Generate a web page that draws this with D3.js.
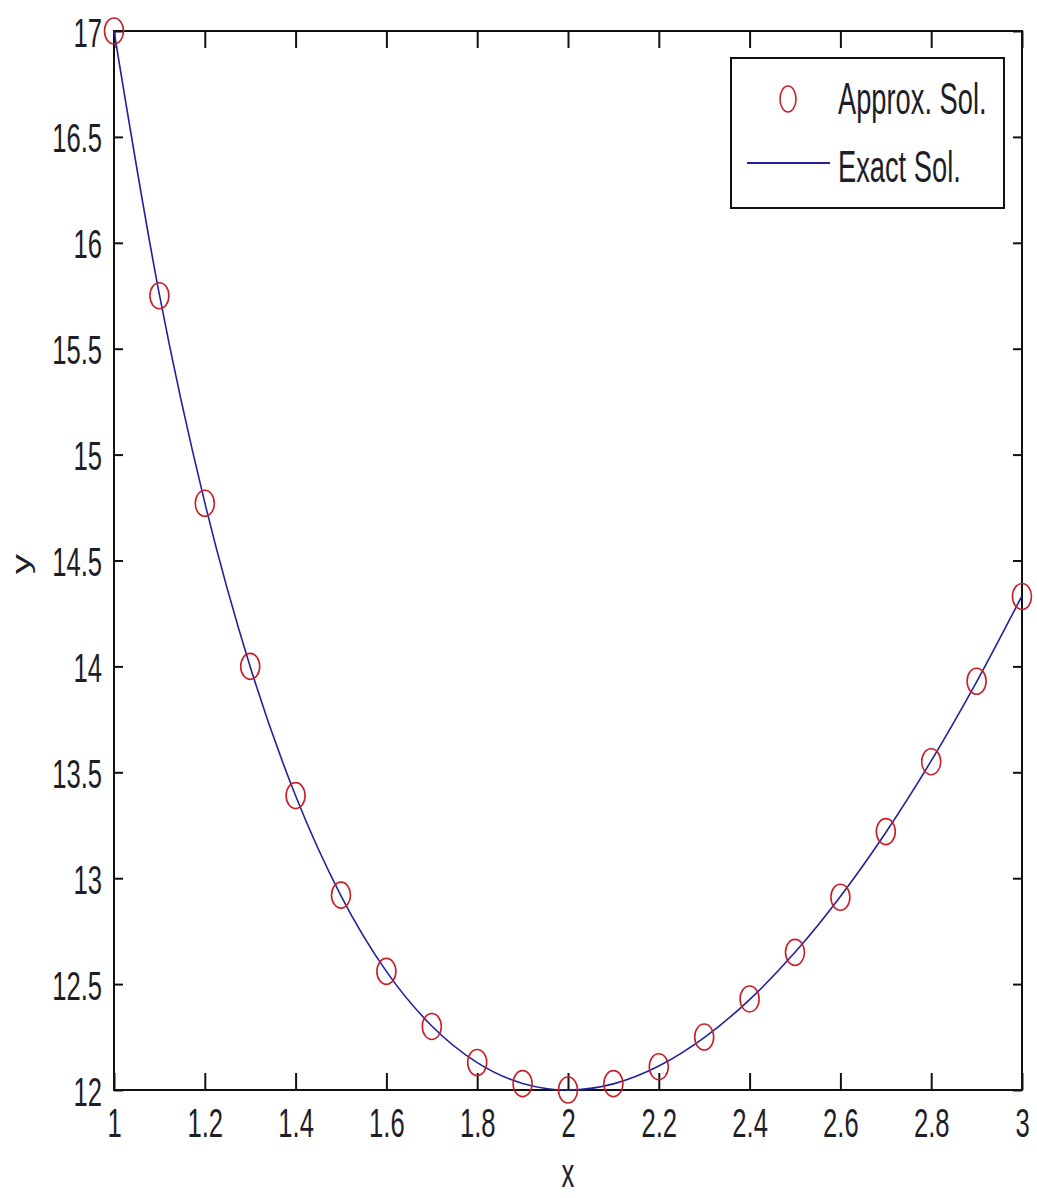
<!DOCTYPE html>
<html>
<head>
<meta charset="utf-8">
<script src="https://cdn.jsdelivr.net/npm/d3@7"></script>
<style>
  body { margin: 0; background: #fff; }
  text { font-family: "Liberation Sans", Arial, sans-serif; fill: #1e1e28; }
</style>
</head>
<body>
<div id="chart"></div>
<script>
// values
const xValues = [1.0, 1.1, 1.2, 1.3, 1.4, 1.5, 1.6, 1.7, 1.8, 1.9, 2.0,
                 2.1, 2.2, 2.3, 2.4, 2.5, 2.6, 2.7, 2.8, 2.9, 3.0];
const approxValues = [17.0, 15.75, 14.77, 14.0, 13.39, 12.92, 12.56, 12.3, 12.13, 12.03, 12.0,
                      12.03, 12.11, 12.25, 12.43, 12.65, 12.91, 13.22, 13.55, 13.93, 14.33];
const exactValues = [17.0, 15.755, 14.773, 13.998, 13.389, 12.917, 12.56, 12.302, 12.129, 12.031, 12.0,
                     12.029, 12.113, 12.247, 12.427, 12.65, 12.914, 13.216, 13.554, 13.927, 14.333];
const xTicks = [1, 1.2, 1.4, 1.6, 1.8, 2, 2.2, 2.4, 2.6, 2.8, 3];
const yTicks = [12, 12.5, 13, 13.5, 14, 14.5, 15, 15.5, 16, 16.5, 17];
const legendLabels = ["Approx. Sol.", "Exact Sol."];

const W = 1037, H = 1198;
const margin = { top: 31, right: 15, bottom: 108, left: 114 };
const width = W - margin.left - margin.right;
const height = H - margin.top - margin.bottom;

const svg = d3.select("#chart").append("svg")
    .attr("width", W)
    .attr("height", H);

const g = svg.append("g")
    .attr("transform", "translate(" + margin.left + "," + margin.top + ")");

const x = d3.scaleLinear().domain([1, 3]).range([0, width]);
const y = d3.scaleLinear().domain([12, 17]).range([height, 0]);

// squeezed text, like the stretched original
const sx = 0.64;

// axes with inward ticks
const xAxis = g.append("g")
    .attr("transform", "translate(0," + height + ")")
    .call(d3.axisBottom(x).tickValues(xTicks).tickSize(-17).tickFormat(d3.format("")));
xAxis.selectAll("text")
    .attr("y", null).attr("dy", null)
    .attr("transform", "translate(0,47) scale(" + sx + ",1)")
    .style("font-size", "40px");

g.append("g")
    .call(d3.axisTop(x).tickValues(xTicks).tickSize(-17).tickFormat(""));

const yAxis = g.append("g")
    .call(d3.axisLeft(y).tickValues(yTicks).tickSize(-9).tickFormat(d3.format("")));
yAxis.selectAll("text")
    .attr("x", null).attr("dy", null)
    .attr("transform", "translate(-12,15) scale(" + sx + ",1)")
    .style("font-size", "40px");

g.append("g")
    .attr("transform", "translate(" + width + ",0)")
    .call(d3.axisRight(y).tickValues(yTicks).tickSize(-9).tickFormat(""));

g.selectAll(".domain").remove();
g.selectAll(".tick line").attr("stroke", "#111").attr("stroke-width", 2);

// frame
g.append("rect")
    .attr("width", width)
    .attr("height", height)
    .attr("fill", "none")
    .attr("stroke", "#111")
    .attr("stroke-width", 2);

// exact solution
const line = d3.line()
    .x((d, i) => x(xValues[i]))
    .y(d => y(d))
    .curve(d3.curveMonotoneX);

g.append("path")
    .datum(exactValues)
    .attr("d", line)
    .attr("fill", "none")
    .attr("stroke", "#22229a")
    .attr("stroke-width", 1.6);

// approximate solution markers
g.selectAll(".marker")
    .data(approxValues)
    .enter()
    .append("ellipse")
    .attr("class", "marker")
    .attr("cx", (d, i) => x(xValues[i]))
    .attr("cy", d => y(d))
    .attr("rx", 9.5)
    .attr("ry", 13)
    .attr("fill", "none")
    .attr("stroke", "#c81e28")
    .attr("stroke-width", 1.6);

// axis titles
svg.append("text")
    .attr("transform", "translate(" + (margin.left + x(2)) + ",1187) scale(" + sx + ",1)")
    .attr("text-anchor", "middle")
    .style("font-size", "40px")
    .text("x");

svg.append("text")
    .attr("transform", "translate(30,564) rotate(-90) scale(1," + sx + ")")
    .attr("text-anchor", "middle")
    .style("font-size", "40px")
    .text("y");

// legend
const legend = svg.append("g").attr("transform", "translate(731,58)");
legend.append("rect")
    .attr("width", 273)
    .attr("height", 150)
    .attr("fill", "#fff")
    .attr("stroke", "#111")
    .attr("stroke-width", 2);
legend.append("ellipse")
    .attr("cx", 57).attr("cy", 41)
    .attr("rx", 8).attr("ry", 13)
    .attr("fill", "none")
    .attr("stroke", "#c81e28")
    .attr("stroke-width", 1.6);
legend.append("line")
    .attr("x1", 16).attr("x2", 99)
    .attr("y1", 105).attr("y2", 105)
    .attr("stroke", "#22229a")
    .attr("stroke-width", 2);
legend.selectAll(".legend-label")
    .data(legendLabels)
    .enter()
    .append("text")
    .attr("class", "legend-label")
    .attr("transform", (d, i) => "translate(107," + (56 + i * 68) + ") scale(0.62,1)")
    .style("font-size", "44px")
    .text(d => d);
</script>
</body>
</html>
